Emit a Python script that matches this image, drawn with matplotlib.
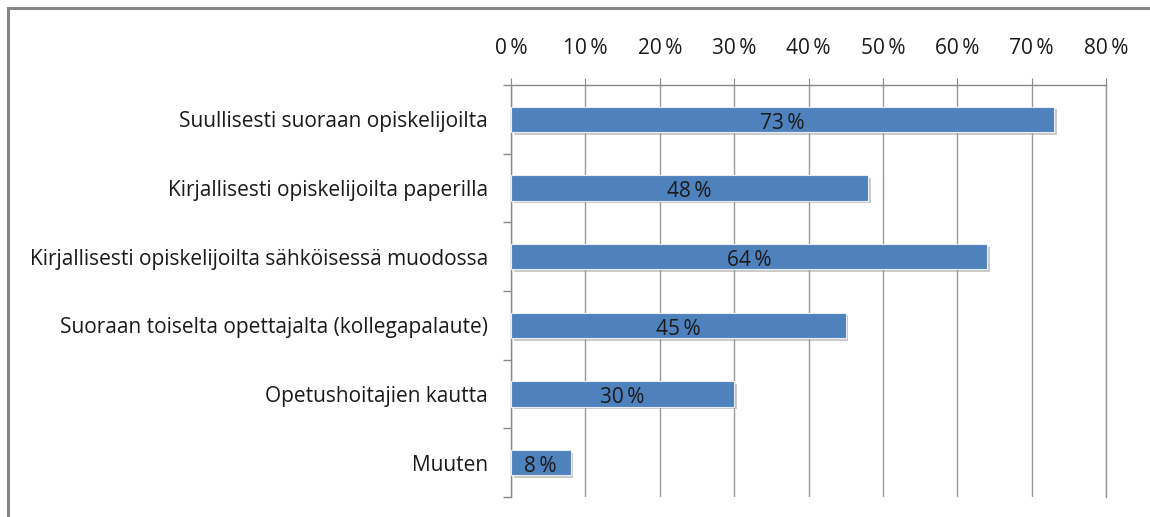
import matplotlib
matplotlib.use("Agg")
import matplotlib.pyplot as plt
import matplotlib.patheffects as pe
from matplotlib.patches import Rectangle
import numpy as np

categories = [
    "Suullisesti suoraan opiskelijoilta",
    "Kirjallisesti opiskelijoilta paperilla",
    "Kirjallisesti opiskelijoilta sähköisessä muodossa",
    "Suoraan toiselta opettajalta (kollegapalaute)",
    "Opetushoitajien kautta",
    "Muuten",
]
values = [73, 48, 64, 45, 30, 8]
xticks = [0, 10, 20, 30, 40, 50, 60, 70, 80]
xticklabels = [f"{v}\u2009%" for v in xticks]

plt.rcParams['font.family'] = ['Open Sans', 'DejaVu Sans']
FS = 15

W, H = 1150, 517
fig = plt.figure(figsize=(W / 100, H / 100), dpi=100)
fig.patches.append(Rectangle((8 / W, -0.1), 1.2, 1 - 8 / H + 0.1, transform=fig.transFigure,
                             fill=False, edgecolor='#868686', linewidth=2.2, zorder=0))

ax = fig.add_axes([511 / W, 1 - 497 / H, (1106 - 511) / W, (497 - 85) / H])
n = len(categories)
ypos = np.arange(n)
bars = ax.barh(ypos, values, height=0.37, color='#4F81BD', edgecolor='#E8EEF6', linewidth=0.8, zorder=3)
for b in bars:
    b.set_path_effects([pe.SimplePatchShadow(offset=(2, -2), shadow_rgbFace='#999999', alpha=0.5), pe.Normal()])
for y, v in zip(ypos, values):
    ax.text(v / 2, y + 0.02, f"{v}\u2009%", ha='center', va='center_baseline', fontsize=FS, color='#1A1A1A', zorder=4)

ax.set_xlim(0, 80)
ax.set_ylim(n - 0.5, -0.5)
ax.xaxis.tick_top()
ax.set_xticks(xticks)
ax.set_xticklabels(xticklabels, fontsize=FS, color='#1A1A1A')
ax.tick_params(axis='x', which='major', length=5, color='#888888', pad=14)
ax.grid(axis='x', color='#999999', linewidth=1.0, zorder=0)

ax.set_yticks(ypos)
ax.set_yticklabels(categories, fontsize=FS, color='#1A1A1A')
ax.tick_params(axis='y', which='major', length=0, pad=16.5)
ax.set_yticks(np.arange(n + 1) - 0.5, minor=True)
ax.tick_params(axis='y', which='minor', length=6, color='#888888', width=1.0)

ax.spines['bottom'].set_visible(False)
ax.spines['right'].set_color('#999999')
ax.spines['right'].set_linewidth(1.0)
for s in ['left', 'top']:
    ax.spines[s].set_color('#888888')
    ax.spines[s].set_linewidth(1.0)

fig.savefig("out.png", dpi=100)
